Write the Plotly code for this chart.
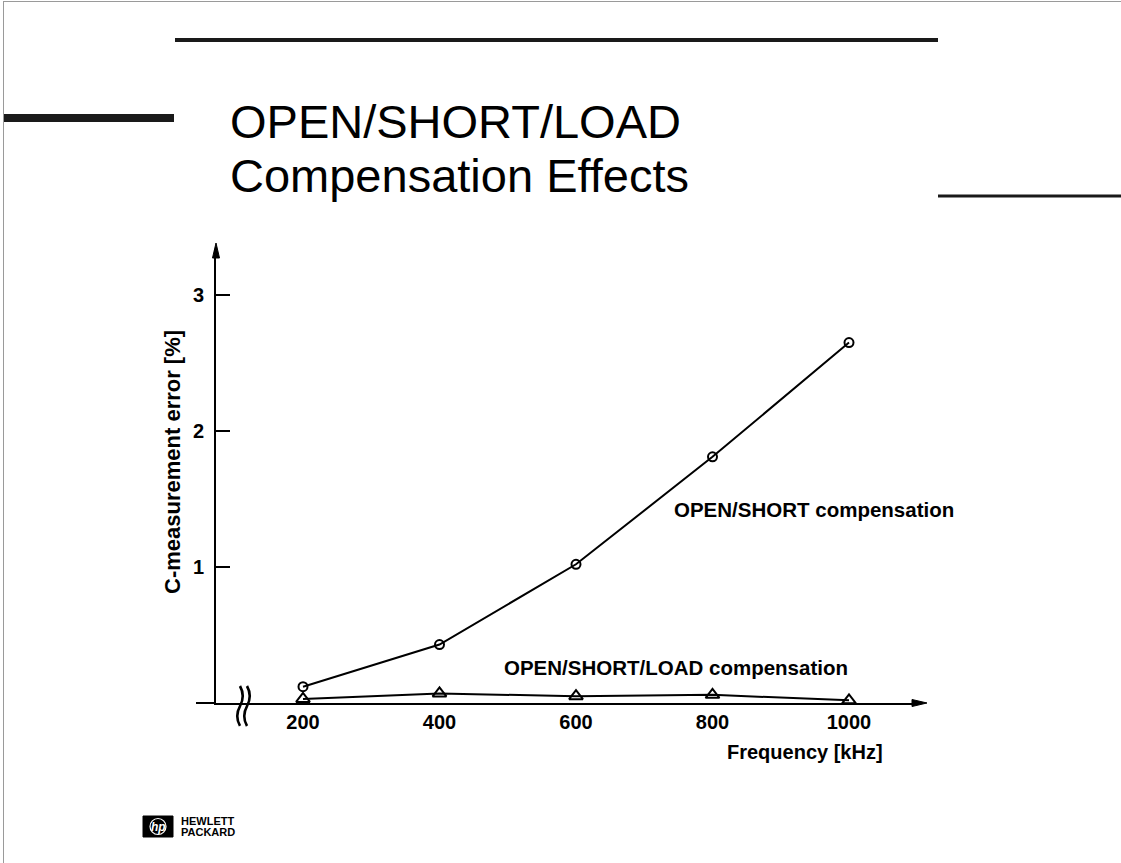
import plotly.graph_objects as go

# Measurement data
freq_khz = [200, 400, 600, 800, 1000]
err_open_short = [0.12, 0.43, 1.02, 1.81, 2.65]
err_open_short_load = [0.03, 0.07, 0.05, 0.06, 0.02]
x_ticks = [200, 400, 600, 800, 1000]
y_ticks = [1, 2, 3]

W, H = 1121, 863


def fx(px):
    return px / W


def fy(py):
    return 1 - py / H


# plot box in pixels
X0, X1 = 216, 918
Y0, Y1 = 703, 250
PX_PER_KHZ = (849 - 303) / 800
PX_PER_PCT = 136.0
x_lo = 200 - (303 - X0) / PX_PER_KHZ
x_hi = 200 + (X1 - 303) / PX_PER_KHZ
y_hi = (Y0 - Y1) / PX_PER_PCT

FONT = "Liberation Sans, Arial, Helvetica, sans-serif"

fig = go.Figure()
fig.add_trace(go.Scatter(
    x=freq_khz, y=err_open_short, mode="lines+markers",
    line=dict(color="black", width=2),
    marker=dict(symbol="circle-open", size=9, color="black", line=dict(width=2)),
    showlegend=False, cliponaxis=False,
))
fig.add_trace(go.Scatter(
    x=freq_khz, y=err_open_short_load, mode="lines+markers",
    line=dict(color="black", width=2),
    marker=dict(symbol="triangle-up-open", size=12, color="black", line=dict(width=2)),
    showlegend=False, cliponaxis=False,
))

shapes = []


def seg(x_a, y_a, x_b, y_b, w, color="#1a1a1a"):
    shapes.append(dict(type="line", xref="paper", yref="paper",
                       x0=fx(x_a), x1=fx(x_b), y0=fy(y_a), y1=fy(y_b),
                       line=dict(color=color, width=w)))


# page frame (top and left edges) and decorative rules
seg(3, 1.5, 1121, 1.5, 1, "#9a9a9a")
seg(3.5, 1, 3.5, 863, 1, "#9a9a9a")
seg(175, 40, 938, 40, 4)
seg(4, 118, 174, 118, 8)
seg(938, 196, 1121, 196, 3)

# x-axis stub left of the y axis
seg(196, Y0, X0, Y0, 2, "black")


def path(points, close=False):
    s = "M " + " L ".join(f"{fx(a):.5f},{fy(b):.5f}" for a, b in points)
    return s + (" Z" if close else "")


# arrowheads
shapes.append(dict(type="path", xref="paper", yref="paper",
                   path=path([(216, 243), (212.5, 258), (219.5, 258)], True),
                   fillcolor="black", line=dict(color="black", width=1)))
shapes.append(dict(type="path", xref="paper", yref="paper",
                   path=path([(927, 703), (912, 699.5), (912, 706.5)], True),
                   fillcolor="black", line=dict(color="black", width=1)))

# axis break marks
for bx in (240, 247):
    pts = [(bx, 686), (bx + 5.5, 696), (bx, 706), (bx - 5.5, 716), (bx, 726)]
    p = (f"M {fx(pts[0][0]):.5f},{fy(pts[0][1]):.5f} "
         f"Q {fx(pts[1][0]):.5f},{fy(pts[1][1]):.5f} {fx(pts[2][0]):.5f},{fy(pts[2][1]):.5f} "
         f"Q {fx(pts[3][0]):.5f},{fy(pts[3][1]):.5f} {fx(pts[4][0]):.5f},{fy(pts[4][1]):.5f}")
    shapes.append(dict(type="path", xref="paper", yref="paper", path=p,
                       line=dict(color="black", width=2.6)))

# HP logo badge
shapes.append(dict(type="rect", xref="paper", yref="paper",
                   x0=fx(143), x1=fx(173), y0=fy(816), y1=fy(837),
                   fillcolor="black", line=dict(color="black", width=1)))
shapes.append(dict(type="circle", xref="paper", yref="paper",
                   x0=fx(150), x1=fx(166), y0=fy(818.5), y1=fy(834.5),
                   line=dict(color="white", width=1.2)))

annotations = [
    dict(text="OPEN/SHORT/LOAD", x=fx(228), y=fy(121), xanchor="left", yanchor="middle",
         font=dict(size=47, family=FONT, color="black")),
    dict(text="Compensation Effects", x=fx(228), y=fy(175), xanchor="left", yanchor="middle",
         font=dict(size=47, family=FONT, color="black")),
    dict(text="<b>C-measurement error [%]</b>", x=fx(172), y=fy(462), textangle=-90,
         xanchor="center", yanchor="middle", font=dict(size=22, family=FONT, color="black")),
    dict(text="<b>Frequency [kHz]</b>", x=fx(805), y=fy(752), xanchor="center", yanchor="middle",
         font=dict(size=20, family=FONT, color="black")),
    dict(text="<b>OPEN/SHORT compensation</b>", x=fx(814), y=fy(509), xanchor="center",
         yanchor="middle", font=dict(size=20.5, family=FONT, color="black")),
    dict(text="<b>OPEN/SHORT/LOAD compensation</b>", x=fx(676), y=fy(667), xanchor="center",
         yanchor="middle", font=dict(size=20.5, family=FONT, color="black")),
    dict(text="<b><i>hp</i></b>", x=fx(158), y=fy(826.5), xanchor="center", yanchor="middle",
         font=dict(size=12, family=FONT, color="white")),
    dict(text="<b>HEWLETT</b>", x=fx(179), y=fy(820.5), xanchor="left", yanchor="middle",
         font=dict(size=11, family=FONT, color="black")),
    dict(text="<b>PACKARD</b>", x=fx(179), y=fy(832), xanchor="left", yanchor="middle",
         font=dict(size=11, family=FONT, color="black")),
]
for a in annotations:
    a.update(xref="paper", yref="paper", showarrow=False)

fig.update_layout(
    width=W, height=H,
    margin=dict(l=0, r=0, t=0, b=0),
    paper_bgcolor="white", plot_bgcolor="white",
    shapes=shapes, annotations=annotations,
    xaxis=dict(domain=[fx(X0), fx(X1)], range=[x_lo, x_hi],
               showgrid=False, zeroline=False, showline=True, linecolor="black", linewidth=2,
               tickvals=x_ticks, ticktext=[f"<b>{v}</b>" for v in x_ticks], ticks="",
               ticklabelstandoff=0,
               tickfont=dict(size=20, family=FONT, color="black")),
    yaxis=dict(domain=[fy(Y0), fy(Y1)], range=[0, y_hi],
               showgrid=False, zeroline=False, showline=True, linecolor="black", linewidth=2,
               tickvals=y_ticks, ticktext=[f"<b>{v}</b>" for v in y_ticks],
               ticks="inside", ticklen=14, tickwidth=2, tickcolor="black",
               ticklabelstandoff=6,
               tickfont=dict(size=20, family=FONT, color="black")),
)

fig.write_html("out.html", config={"displayModeBar": False})
